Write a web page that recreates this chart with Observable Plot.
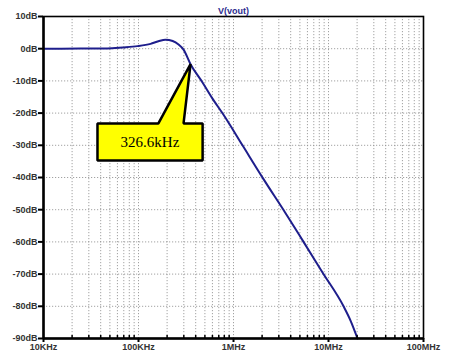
<!DOCTYPE html>
<html>
<head>
<meta charset="utf-8">
<script src="https://cdn.jsdelivr.net/npm/d3@7"></script>
<script src="https://cdn.jsdelivr.net/npm/@observablehq/plot@0.6"></script>
<style>
  html, body { margin: 0; padding: 0; background: #fff; }
  #chart svg { display: block; }
</style>
</head>
<body>
<div id="chart"></div>
<script>
// ---- data ----
const freqHz = [1e4, 2.45e4, 4.7e4, 6.8e4, 9.77e4, 1.34e5, 1.62e5, 1.92e5, 2.29e5, 2.64e5, 2.98e5, 3.53e5, 4.72e5, 6.01e5, 7.85e5, 1.244e6, 2.07e6, 3.52e6, 5.46e6, 8.65e6, 1.44e7, 1.71e7, 2.02e7];
const gainDb = [0, 0.05, 0.1, 0.4, 0.8, 1.5, 2.3, 2.8, 2.4, 1.3, -0.3, -4.8, -10.5, -15.5, -20.5, -30, -40.5, -51, -60, -69.5, -80, -84.5, -90];

const yTicks = [10, 0, -10, -20, -30, -40, -50, -60, -70, -80, -90];
const xMajor = [1e4, 1e5, 1e6, 1e7, 1e8];
const xLabels = ["10KHz", "100KHz", "1MHz", "10MHz", "100MHz"];
const minorMult = [2, 3, 4, 5, 6, 7, 8, 9];

// callout annotation (data coordinates)
const calloutText = "326.6kHz";
const calloutFreq = [3.7e4, 1.62e5, 3.53e5, 2.98e5, 4.73e5, 4.73e5, 3.7e4];
const calloutDb   = [-23.2, -23.2, -4.8, -23.2, -23.2, -34.7, -34.7];
const calloutLabelFreq = [1.32e5];
const calloutLabelDb = [-29];

// ---- build tables ----
const curve = freqHz.map((f, i) => ({f, db: gainDb[i]}));
const callout = calloutFreq.map((f, i) => ({f, db: calloutDb[i]}));
const minorTicks = xMajor.slice(0, -1).flatMap(d => minorMult.map(m => d * m));
const allGridX = xMajor.concat(minorTicks);

const gridStyle = {stroke: "#8a8a8a", strokeOpacity: 1, strokeWidth: 0.8, strokeDasharray: "1.2,1.8"};

const chart = Plot.plot({
  width: 450,
  height: 356,
  marginLeft: 43,
  marginRight: 27,
  marginTop: 16,
  marginBottom: 18,
  style: {background: "#fff", fontFamily: "Arial, 'Liberation Sans', sans-serif"},
  x: {type: "log", domain: [1e4, 1e8]},
  y: {domain: [-90, 10]},
  marks: [
    Plot.gridX(allGridX, gridStyle),
    Plot.gridY(yTicks, gridStyle),
    Plot.line(curve, {x: "f", y: "db", stroke: "#1e1e8c", strokeWidth: 2, curve: "monotone-x"}),
    Plot.line(callout, {x: "f", y: "db", fill: "#ffff00", stroke: "#000", strokeWidth: 2.5, strokeLinejoin: "miter", curve: "linear-closed"}),
    Plot.text([calloutText], {x: calloutLabelFreq, y: calloutLabelDb, text: d => d, fontFamily: "'Liberation Serif', 'Times New Roman', serif", fontSize: 15, fill: "#000"}),
    Plot.frame({stroke: "#000", strokeWidth: 1.6}),
    Plot.ruleX([1e4], {stroke: "#000", strokeWidth: 2.5}),
    Plot.ruleY([-90], {stroke: "#000", strokeWidth: 2.5}),
    Plot.axisY(yTicks, {tickSize: 5, tickPadding: 1, tickFormat: d => d + "dB", fontSize: 9, fontWeight: "bold", fill: "#333", stroke: "#000", strokeWidth: 2, label: null}),
    Plot.axisX(minorTicks, {tickSize: -3, tickFormat: () => "", strokeWidth: 1.5, label: null}),
    Plot.axisX(xMajor, {tickSize: 4, tickPadding: 1, tickFormat: d => xLabels[xMajor.indexOf(d)], fontSize: 9, fontWeight: "bold", fill: "#333", strokeWidth: 2, label: null}),
    Plot.text(["V(vout)"], {frameAnchor: "top", dy: -9, text: d => d, fontSize: 9, fontWeight: "bold", fill: "#2b2b8e"})
  ]
});
document.getElementById("chart").appendChild(chart);
</script>
</body>
</html>
